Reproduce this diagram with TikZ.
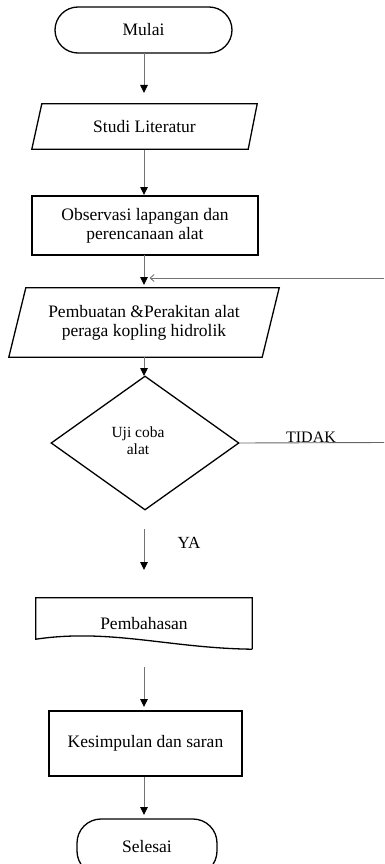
\documentclass[tikz,border=0pt]{standalone}
\usepackage{fontspec}
\setmainfont{Liberation Serif}
\usetikzlibrary{shapes.geometric,arrows.meta}
\begin{document}
\begin{tikzpicture}[x=1pt,y=-1pt,
  box/.style={draw=none,inner sep=0pt,align=center,font=\fontsize{17.5}{19}\selectfont},
  outline/.style={draw=black,line width=1.3pt,line join=miter},
  flow/.style={draw=gray!90!black,line width=0.9pt,-{Triangle[length=8pt,width=7.5pt,color=black]}},
  back/.style={draw=gray!90!black,line width=0.9pt,-{Straight Barb[length=4pt,width=7pt]}},
  plain/.style={draw=gray!80!black,line width=0.9pt}]
\useasboundingbox (0,0) rectangle (384,864);
\clip (0,0) rectangle (384,864);
% Mulai
\node[box,minimum width=177pt,minimum height=46pt,draw=black,line width=1.3pt,rounded corners=23pt] (mulai) at (143.5,30) {Mulai};
% Studi Literatur
\node[box,minimum width=225pt,minimum height=45pt] (studi) at (144.5,126.5) {Studi Literatur};
\draw[outline] ([xshift=10pt]studi.north west) -- (studi.north east) -- ([xshift=-9pt]studi.south east) -- (studi.south west) -- cycle;
% Observasi
\node[box,minimum width=226pt,minimum height=59pt,draw=black,line width=1.3pt] (obs) at (145,225.5) {Observasi lapangan dan\\perencanaan alat};
% Pembuatan
\node[box,minimum width=270pt,minimum height=69pt] (buat) at (144,322.5) {Pembuatan \&Perakitan alat\\peraga kopling hidrolik};
\draw[outline] ([xshift=17pt]buat.north west) -- (buat.north east) -- ([xshift=-17pt]buat.south east) -- (buat.south west) -- cycle;
% Decision
\node[diamond,draw=black,line width=1.3pt,minimum width=188pt,minimum height=134pt,inner sep=0pt] (uji) at (145,443) {};
\node[box,font=\fontsize{15.5}{17}\selectfont] (ujitxt) at (138,440.5) {Uji coba\\alat};
% Pembahasan (document)
\node[box,minimum width=216pt,minimum height=51pt] (bahas) at (144,623.5) {Pembahasan};
\draw[outline] (bahas.south east) -- (bahas.north east) -- (bahas.north west) -- ([yshift=10pt]bahas.south west)
  .. controls ([xshift=74pt,yshift=21pt]bahas.south west) and ([xshift=134pt,yshift=1pt]bahas.south west) .. (bahas.south east);
% Kesimpulan
\node[box,minimum width=193pt,minimum height=65pt,draw=black,line width=1.3pt,text depth=5pt] (simpul) at (145.5,743.5) {Kesimpulan dan saran};
% Selesai
\node[box,minimum width=140pt,minimum height=56pt,draw=black,line width=1.3pt,rounded corners=24pt] (selesai) at (147,847) {Selesai};
% connectors
\coordinate (m1) at (144,53);
\coordinate (m2) at (144,93);
\draw[flow] (m1) -- (m2);
\coordinate (s1) at (144,150);
\coordinate (s2) at (144,195);
\draw[flow] (s1) -- (s2);
\coordinate (o1) at (144,255);
\coordinate (o2) at (144,285);
\draw[flow] (o1) -- (o2);
\coordinate (b1) at (144,357);
\coordinate (b2) at (144,376);
\draw[flow] (b1) -- (b2);
\coordinate (y1) at (144,529);
\coordinate (y2) at (144,570);
\draw[flow] (y1) -- (y2);
\node[box,font=\fontsize{17}{19}\selectfont] (ya) at (189,543) {YA};
\coordinate (p1) at (144,667);
\coordinate (p2) at (144,707);
\draw[flow] (p1) -- (p2);
\coordinate (k1) at (144,776.5);
\coordinate (k2) at (144,815);
\draw[flow] (k1) -- (k2);
% no branch
\coordinate (tidakend) at (384,442.5);
\draw[plain] (uji.east) -- (tidakend);
\node[box,font=\fontsize{16}{18}\selectfont,anchor=base] (tidak) at (311,442.5) {TIDAK};
\coordinate (backstart) at (384,278);
\coordinate (backend) at (149.5,278);
\draw[back] (backstart) -- (backend);
\end{tikzpicture}
\end{document}
